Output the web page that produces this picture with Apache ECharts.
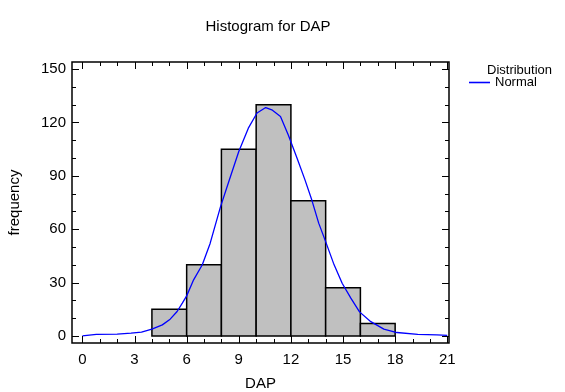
<!DOCTYPE html>
<html>
<head>
<meta charset="utf-8">
<script src="https://cdn.jsdelivr.net/npm/echarts@6/dist/echarts.min.js"></script>
<style>html,body{margin:0;padding:0;background:#fff;}#c{width:565px;height:392px;}</style>
</head>
<body>
<div id="c"></div>
<script>
// ---- data ----
var binStarts = [4, 6, 8, 10, 12, 14, 16];
var binWidth = 2;
var counts = [15, 40, 105, 130, 76, 27, 7];
var normalX = [0, 0.8, 2.0, 2.8, 3.4, 4.0, 4.6, 5.05, 5.45, 5.75, 6.0, 6.4, 6.9, 7.35, 7.95, 8.45, 9.0, 9.55, 10.05, 10.55, 10.9, 11.4, 11.85, 12.35, 12.8, 13.2, 13.6, 14.0, 14.45, 14.95, 15.45, 15.95, 16.6, 17.35, 18.1, 19.3, 20.4, 21.0];
var normalY = [0, 0.8, 1.0, 1.5, 2.1, 3.8, 6.2, 9.4, 13.7, 18.4, 22.5, 31.5, 40, 52, 72.7, 87.5, 103.7, 116.8, 125.3, 128.4, 127.1, 123.4, 113, 100, 88, 76.5, 63.4, 53, 40.9, 29.6, 21.2, 13.5, 8, 3.8, 1.9, 0.9, 0.6, 0.3];
var xMajor = [0, 3, 6, 9, 12, 15, 18, 21];
var xMinor = [1, 2, 4, 5, 7, 8, 10, 11, 13, 14, 16, 17, 19, 20];
var yMajor = [0, 30, 60, 90, 120, 150];
var yMinor = [10, 20, 40, 50, 70, 80, 100, 110, 130, 140];
var titleText = 'Histogram for DAP';
var xName = 'DAP';
var yName = 'frequency';
var legendTitle = 'Distribution';
var seriesName = 'Normal';

// ---- chart ----
var FONT = 'Liberation Sans, Arial, sans-serif';
var XMIN = -0.6, XMAX = 21.1, YMIN = -4, YMAX = 154;
var MAJ = 7, MIN = 4;
var histData = binStarts.map(function (s, i) { return [s, s + binWidth, counts[i]]; });
var lineData = normalX.map(function (x, i) { return [x, normalY[i]]; });
// tick specs: [x, y, kind]  kind 0 = x major, 1 = x minor, 2 = y major, 3 = y minor
var tickData = []
  .concat(xMajor.map(function (v) { return [v, 0, 0]; }))
  .concat(xMinor.map(function (v) { return [v, 0, 1]; }))
  .concat(yMajor.map(function (v) { return [0, v, 2]; }))
  .concat(yMinor.map(function (v) { return [0, v, 3]; }));

var chart = echarts.init(document.getElementById('c'), null, { renderer: 'canvas' });
chart.setOption({
  animation: false,
  backgroundColor: '#fff',
  title: [
    { text: titleText, left: 263, top: 14, textAlign: 'center',
      textStyle: { fontFamily: FONT, fontSize: 15, fontWeight: 'normal', color: '#000' } },
    { text: legendTitle, left: 482, top: 59,
      textStyle: { fontFamily: FONT, fontSize: 13, fontWeight: 'normal', color: '#000' } }
  ],
  legend: {
    data: [{ name: seriesName, icon: 'path://M0,0L20,0L20,1.5L0,1.5Z' }],
    left: 469, top: 76, padding: 0, itemWidth: 21, itemHeight: 2, itemGap: 4,
    textStyle: { fontFamily: FONT, fontSize: 13, color: '#000' }
  },
  grid: { left: 72, right: 116, top: 62, bottom: 49, outerBoundsMode: 'none', containLabel: false,
    show: true, borderColor: '#000', borderWidth: 1.5, backgroundColor: 'transparent' },
  xAxis: {
    type: 'value', min: XMIN, max: XMAX,
    axisLine: { show: false }, splitLine: { show: false }, axisTick: { show: false },
    axisLabel: { customValues: xMajor, color: '#000', fontFamily: FONT, fontSize: 15, margin: 9 },
    name: xName, nameLocation: 'middle', nameGap: 33,
    nameTextStyle: { fontFamily: FONT, fontSize: 15, color: '#000' }
  },
  yAxis: {
    type: 'value', min: YMIN, max: YMAX,
    axisLine: { show: false }, splitLine: { show: false }, axisTick: { show: false },
    axisLabel: { customValues: yMajor, color: '#000', fontFamily: FONT, fontSize: 15, margin: 6 },
    name: yName, nameLocation: 'middle', nameGap: 50, nameRotate: 90,
    nameTextStyle: { fontFamily: FONT, fontSize: 15, color: '#000' }
  },
  series: [
    {
      type: 'custom', name: 'hist',
      data: histData,
      renderItem: function (params, api) {
        var p0 = api.coord([api.value(0), api.value(2)]);
        var p1 = api.coord([api.value(1), 0]);
        return {
          type: 'rect',
          shape: { x: p0[0], y: p0[1], width: p1[0] - p0[0], height: p1[1] - p0[1] },
          style: { fill: '#c0c0c0', stroke: '#000', lineWidth: 1.5 }
        };
      },
      silent: true
    },
    {
      type: 'line', name: seriesName,
      data: lineData, showSymbol: false, smooth: false,
      lineStyle: { color: '#0000ff', width: 1.3 }, itemStyle: { color: '#0000ff' },
      silent: true, z: 5
    },
    {
      type: 'custom', name: 'ticks', silent: true, z: 10,
      data: tickData,
      renderItem: function (params, api) {
        var cs = params.coordSys;
        var kind = api.value(2);
        var len = (kind === 0 || kind === 2) ? MAJ : MIN;
        var st = { stroke: '#000', lineWidth: 1 };
        if (kind < 2) {
          var x = Math.round(api.coord([api.value(0), 0])[0]) + 0.5;
          var yb = cs.y + cs.height, yt = cs.y;
          return { type: 'group', children: [
            { type: 'line', shape: { x1: x, y1: yb, x2: x, y2: yb - len }, style: st },
            { type: 'line', shape: { x1: x, y1: yt, x2: x, y2: yt + len }, style: st }
          ] };
        } else {
          var y = Math.round(api.coord([0, api.value(1)])[1]) + 0.5;
          var xl = cs.x, xr = cs.x + cs.width;
          return { type: 'group', children: [
            { type: 'line', shape: { x1: xl, y1: y, x2: xl + len, y2: y }, style: st },
            { type: 'line', shape: { x1: xr, y1: y, x2: xr - len, y2: y }, style: st }
          ] };
        }
      }
    }
  ]
});
</script>
</body>
</html>
